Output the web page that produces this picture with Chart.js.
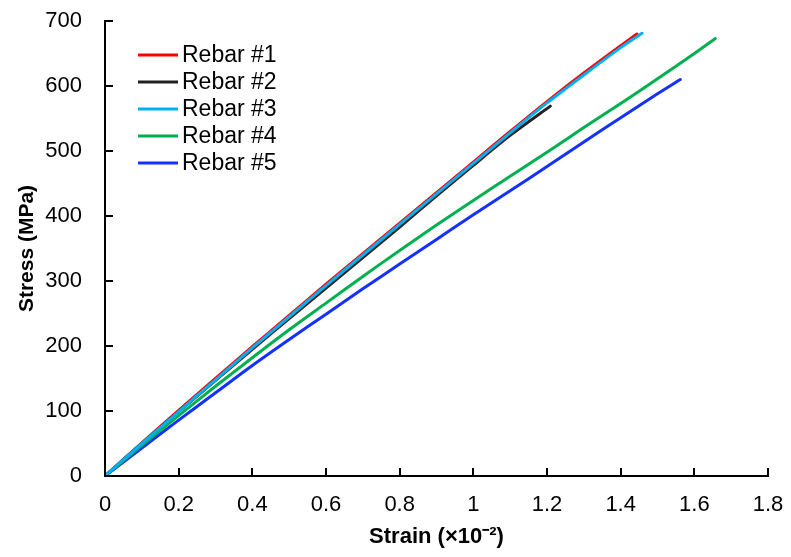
<!DOCTYPE html>
<html>
<head>
<meta charset="utf-8">
<script src="https://cdn.jsdelivr.net/npm/chart.js@4"></script>
<style>
  html, body { margin: 0; padding: 0; background: #fff; }
  #wrap { width: 791px; height: 557px; }
</style>
</head>
<body>
<div id="wrap"><canvas id="chart"></canvas></div>
<script>
// strain in x10^-2, stress in MPa
const seriesNames = ['Rebar #1', 'Rebar #2', 'Rebar #3', 'Rebar #4', 'Rebar #5'];
const seriesColors = ['#FF0000', '#222222', '#00B0F0', '#00B050', '#1432FF'];

const strain1 = [0, 0.1, 0.2, 0.3, 0.4, 0.5, 0.6, 0.7, 0.8, 0.9, 1.0, 1.1, 1.2, 1.3, 1.4, 1.444];
const stress1 = [0, 51, 101, 150, 199, 247, 295, 342, 389, 436, 483, 530, 576, 620, 662, 680];

const strain2 = [0, 0.1, 0.2, 0.3, 0.4, 0.5, 0.6, 0.7, 0.8, 0.9, 1.0, 1.1, 1.209];
const stress2 = [0, 50, 99, 147, 195, 242, 289, 336, 383, 431, 478, 524, 569];

const strain3 = [0, 0.1, 0.2, 0.3, 0.4, 0.5, 0.6, 0.7, 0.8, 0.9, 1.0, 1.1, 1.2, 1.3, 1.4, 1.458];
const stress3 = [0, 50, 99, 148, 197, 245, 293, 340, 387, 434, 481, 528, 574, 617, 659, 681];

const strain4 = [0, 0.1, 0.2, 0.3, 0.4, 0.5, 0.6, 0.7, 0.8, 0.9, 1.0, 1.1, 1.2, 1.3, 1.4, 1.5, 1.6, 1.657];
const stress4 = [0, 47, 93, 138, 182, 225, 266, 307, 347, 386, 424, 461, 498, 536, 573, 611, 650, 673];

const strain5 = [0, 0.1, 0.2, 0.3, 0.4, 0.5, 0.6, 0.7, 0.8, 0.9, 1.0, 1.1, 1.2, 1.3, 1.4, 1.5, 1.562];
const stress5 = [0, 43, 86, 128, 170, 210, 249, 288, 326, 364, 402, 439, 476, 514, 551, 588, 610];

const strains = [strain1, strain2, strain3, strain4, strain5];
const stresses = [stress1, stress2, stress3, stress4, stress5];
// draw order: smaller number is painted on top
const drawOrder = [3, 2, 0, 1, 1];

const FONT = "'Liberation Sans', Arial, sans-serif";

const toPoints = (xs, ys) => xs.map((x, i) => ({ x: x, y: ys[i] }));

// inward tick marks and the legend inside the plot, like the original
const extrasPlugin = {
  id: 'extras',
  afterDraw(chart) {
    const ctx = chart.ctx;
    const area = chart.chartArea;
    const xs = chart.scales.x;
    const ys = chart.scales.y;
    ctx.save();
    ctx.strokeStyle = '#000';
    ctx.lineWidth = 2;
    xs.ticks.forEach(t => {
      const px = Math.round(xs.getPixelForValue(t.value));
      ctx.beginPath();
      ctx.moveTo(px, area.bottom);
      ctx.lineTo(px, area.bottom - 8);
      ctx.stroke();
    });
    ys.ticks.forEach(t => {
      const py = Math.round(ys.getPixelForValue(t.value));
      ctx.beginPath();
      ctx.moveTo(area.left, py);
      ctx.lineTo(area.left + 8, py);
      ctx.stroke();
    });

    // legend
    ctx.font = '23px ' + FONT;
    ctx.textBaseline = 'middle';
    ctx.textAlign = 'left';
    ctx.lineWidth = 3;
    seriesNames.forEach((name, i) => {
      const y = area.top + 34 + i * 27;
      ctx.strokeStyle = seriesColors[i];
      ctx.beginPath();
      ctx.moveTo(area.left + 33, y);
      ctx.lineTo(area.left + 73, y);
      ctx.stroke();
      ctx.fillStyle = '#000';
      ctx.fillText(name, area.left + 77, y + 1);
    });
    ctx.restore();
  }
};

new Chart(document.getElementById('chart'), {
  type: 'line',
  data: {
    datasets: seriesNames.map((name, i) => ({
      label: name,
      data: toPoints(strains[i], stresses[i]),
      borderColor: seriesColors[i],
      backgroundColor: seriesColors[i],
      borderWidth: 3,
      borderCapStyle: 'round',
      borderJoinStyle: 'round',
      pointRadius: 0,
      fill: false,
      tension: 0.3,
      order: drawOrder[i]
    }))
  },
  options: {
    responsive: true,
    maintainAspectRatio: false,
    animation: false,
    layout: { padding: { top: 21, right: 23, bottom: 0, left: 0 } },
    plugins: {
      legend: { display: false },
      tooltip: { enabled: false }
    },
    scales: {
      x: {
        type: 'linear',
        min: 0,
        max: 1.8,
        ticks: {
          stepSize: 0.2,
          padding: 16,
          color: '#000',
          font: { family: FONT, size: 22 },
          maxRotation: 0,
          callback: v => String(Math.round(v * 10) / 10)
        },
        grid: { display: false, drawTicks: false },
        border: { display: true, color: '#000', width: 2 },
        title: {
          display: true,
          text: 'Strain (×10⁻²)',
          color: '#000',
          font: { family: FONT, size: 22, weight: 'bold' },
          padding: { top: 0, bottom: 7 }
        },
        afterFit(scale) {
          scale.height = 81;
          scale.paddingLeft = 0;
          scale.paddingRight = 0;
        }
      },
      y: {
        type: 'linear',
        min: 0,
        max: 700,
        ticks: {
          stepSize: 100,
          padding: 23,
          color: '#000',
          font: { family: FONT, size: 22 }
        },
        grid: { display: false, drawTicks: false },
        border: { display: true, color: '#000', width: 2 },
        title: {
          display: true,
          text: 'Stress (MPa)',
          color: '#000',
          font: { family: FONT, size: 21, weight: 'bold' },
          padding: { top: 15, bottom: 0 }
        },
        afterFit(scale) {
          scale.width = 105;
          scale.paddingTop = 0;
          scale.paddingBottom = 0;
        }
      }
    }
  },
  plugins: [extrasPlugin]
});
</script>
</body>
</html>
